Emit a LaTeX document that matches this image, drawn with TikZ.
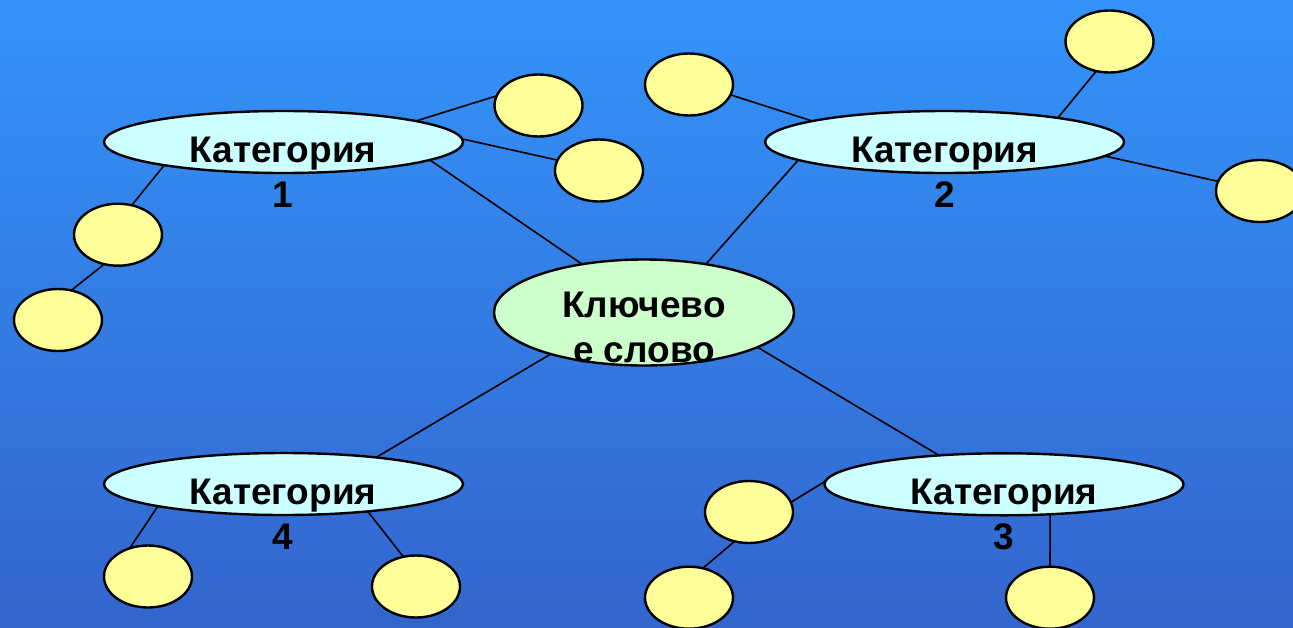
\documentclass[tikz,border=0pt]{standalone}
\usepackage{fontspec}
\setmainfont{Liberation Sans}
\usetikzlibrary{shapes.geometric}
\definecolor{seatop}{RGB}{48,134,232}
\definecolor{seabright}{RGB}{51,153,255}
\definecolor{seabottom}{RGB}{51,78,182}
\definecolor{bubfill}{RGB}{255,255,153}
\definecolor{catfill}{RGB}{204,255,255}
\definecolor{keyfill}{RGB}{204,255,204}
\pgfdeclareverticalshading{sea}{100bp}{color(0bp)=(seabottom); color(81bp)=(seabright); color(100bp)=(seatop)}

\begin{document}
\begin{tikzpicture}[x=1pt,y=-1pt]
                        \tikzstyle{every node}=[inner sep=0,outer sep=0]
                        \tikzstyle{cat}=[ellipse,draw,line width=2.4pt,fill=catfill,minimum width=359,minimum height=62]
                        \tikzstyle{keyword}=[ellipse,draw,line width=2.4pt,fill=keyfill,minimum width=300,minimum height=106]
                        \tikzstyle{bub}=[ellipse,draw,line width=2.4pt,fill=bubfill,minimum width=88,minimum height=62]
                        \tikzstyle{word}=[align=center,font=\fontsize{37}{45}\selectfont\bfseries]
                        {
                            \clip (0,0) rectangle (1293,627);
                            \shade[shading=sea] (0,0) rectangle (1293,627);

                            \node[keyword] (key) at (644,312.5) {};
                            \node[cat] (k1) at (283.5,142) {};
                            \node[cat] (k2) at (944.6,142) {};
                            \node[cat] (k3) at (1004,484.3) {};
                            \node[cat] (k4) at (283.5,484) {};

                            \node[bub] (y1a) at (538.5,105.5) {};
                            \node[bub] (y1b) at (599,170.5) {};
                            \node[bub] (y1c) at (118,234.7) {};
                            \node[bub] (y1d) at (58,320) {};
                            \node[bub] (y2a) at (689,84.5) {};
                            \node[bub] (y2b) at (1109.5,41.5) {};
                            \node[bub] (y2c) at (1260,191) {};
                            \node[bub] (y3a) at (749,512) {};
                            \node[bub] (y3b) at (689,597.7) {};
                            \node[bub] (y3c) at (1050,597.7) {};
                            \node[bub] (y4a) at (148,576.5) {};
                            \node[bub] (y4b) at (416,586.5) {};

                            \path[draw,line width=1.6pt]
                                (k1.9) edge (y1a.167)
                                (k1.1) edge (y1b.166)
                                (k1.191) edge (y1c.65)
                                (y1c.245) edge (y1d.66)
                                (k1.353) edge (key.142)
                                (y2a.346) edge (k2.171)
                                (k2.12) edge (y2b.246)
                                (k2.355) edge (y2c.167)
                                (k2.187) edge (key.38)
                                (key.204) edge (k4.16)
                                (k4.190) edge (y4a.123)
                                (k4.342) edge (y4b.113)
                                (key.343) edge (k3.156)
                                (k3.179) edge (y3a.13)
                                (y3a.244) edge (y3b.65)
                                (k3.327) edge (y3c.north);

                            \node[word] (t1) at (283,172.5) {Категория\\1};
                            \node[word] (t2) at (944.6,172.5) {Категория\\2};
                            \node[word] (t3) at (1004,514.3) {Категория\\3};
                            \node[word] (t4) at (283,514.3) {Категория\\4};
                            \node[word] (tkey) at (644,327.5) {Ключево\\е слово};
                        }
                    \end{tikzpicture}
\end{document}
